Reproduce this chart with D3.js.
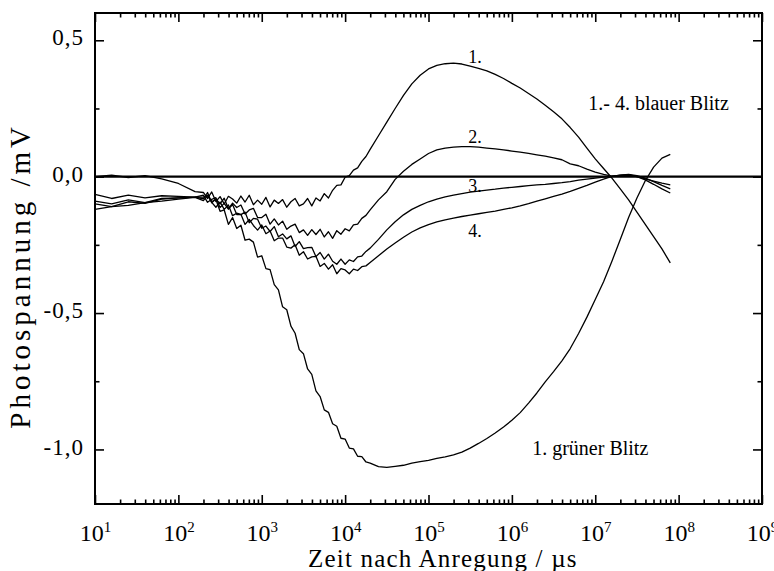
<!DOCTYPE html>
<html>
<head>
<meta charset="utf-8">
<script src="https://cdn.jsdelivr.net/npm/d3@7"></script>
<style>
    body { margin: 0; background: #fff; }
    text { font-family: "Liberation Serif", "Times New Roman", serif; fill: #000; }
</style>
</head>
<body>
<div id="chart"></div>
<script>
// time after excitation as log10(t / µs), shared by all curves
const logTime = [
    1.0, 1.2, 1.4, 1.6, 1.8, 2.0, 2.2,
    2.30, 2.35, 2.40, 2.45, 2.50, 2.55, 2.60, 2.65, 2.70, 2.75,
    2.80, 2.85, 2.90, 2.95, 3.00, 3.05, 3.10, 3.15, 3.20, 3.25,
    3.30, 3.35, 3.40, 3.45, 3.50, 3.55, 3.60, 3.65, 3.70, 3.75,
    3.80, 3.85, 3.90, 3.95, 4.00, 4.05, 4.10, 4.15, 4.20, 4.25, 4.30,
    4.4, 4.5, 4.6, 4.7, 4.8, 4.9, 5.0, 5.1, 5.2, 5.3, 5.4, 5.5,
    5.6, 5.7, 5.8, 5.9, 6.0, 6.1, 6.2, 6.3, 6.4, 6.5, 6.6, 6.7,
    6.8, 6.9, 7.0, 7.1, 7.2, 7.3, 7.4, 7.5, 7.6, 7.7, 7.8, 7.9
]

// photovoltage /mV, 1st - 4th blue flash
const blue1 = [
    0.000, 0.006, -0.003, 0.004, -0.008, -0.025, -0.055,
    -0.058, -0.080, -0.056, -0.091, -0.073, -0.100, -0.072, -0.082, -0.097, -0.071,
    -0.093, -0.068, -0.103, -0.086, -0.101, -0.076, -0.111, -0.086, -0.098, -0.084,
    -0.112, -0.092, -0.080, -0.107, -0.100, -0.080, -0.107, -0.078, -0.089, -0.062,
    -0.078, -0.050, -0.032, -0.030, -0.002, 0.004, 0.024, 0.032, 0.056, 0.074, 0.100,
    0.150, 0.200, 0.250, 0.298, 0.340, 0.372, 0.395, 0.408, 0.414, 0.416, 0.413, 0.405,
    0.397, 0.388, 0.375, 0.360, 0.342, 0.325, 0.305, 0.285, 0.262, 0.238, 0.212, 0.180,
    0.145, 0.105, 0.065, 0.030, -0.005, -0.045, -0.085, -0.130, -0.175, -0.220, -0.265, -0.316
]
const blue2 = [
    -0.065, -0.080, -0.068, -0.078, -0.070, -0.072, -0.075,
    -0.081, -0.058, -0.096, -0.082, -0.100, -0.079, -0.118, -0.097, -0.113, -0.104,
    -0.137, -0.122, -0.116, -0.150, -0.150, -0.138, -0.174, -0.155, -0.177, -0.163,
    -0.193, -0.181, -0.174, -0.205, -0.195, -0.215, -0.194, -0.212, -0.193, -0.221,
    -0.202, -0.226, -0.198, -0.211, -0.191, -0.199, -0.177, -0.174, -0.153, -0.142, -0.122,
    -0.085, -0.055, -0.010, 0.020, 0.045, 0.065, 0.085, 0.098, 0.105, 0.108, 0.110, 0.110,
    0.108, 0.105, 0.102, 0.098, 0.094, 0.090, 0.085, 0.080, 0.075, 0.069, 0.062, 0.047,
    0.040, 0.028, 0.017, 0.008, 0.002, 0.004, 0.005, 0.000, -0.008, -0.016, -0.024, -0.030
]
const blue3 = [
    -0.090, -0.100, -0.085, -0.095, -0.080, -0.078, -0.075,
    -0.068, -0.094, -0.083, -0.077, -0.113, -0.098, -0.119, -0.102, -0.139, -0.139,
    -0.130, -0.169, -0.153, -0.156, -0.189, -0.181, -0.201, -0.183, -0.220, -0.210,
    -0.228, -0.217, -0.256, -0.238, -0.264, -0.260, -0.259, -0.293, -0.278, -0.302,
    -0.284, -0.310, -0.321, -0.302, -0.321, -0.305, -0.311, -0.294, -0.291, -0.274, -0.262,
    -0.230, -0.195, -0.165, -0.140, -0.120, -0.105, -0.092, -0.082, -0.074, -0.068, -0.062, -0.057,
    -0.053, -0.049, -0.046, -0.042, -0.039, -0.036, -0.033, -0.030, -0.028, -0.025, -0.022, -0.018,
    -0.013, -0.009, -0.005, -0.002, 0.001, 0.006, 0.008, 0.004, -0.005, -0.018, -0.032, -0.045
]
const blue4 = [
    -0.120, -0.110, -0.105, -0.095, -0.090, -0.082, -0.076,
    -0.088, -0.069, -0.094, -0.112, -0.093, -0.120, -0.104, -0.143, -0.134, -0.138,
    -0.175, -0.157, -0.179, -0.196, -0.177, -0.209, -0.199, -0.235, -0.225, -0.225,
    -0.258, -0.262, -0.250, -0.288, -0.275, -0.302, -0.294, -0.292, -0.329, -0.318,
    -0.339, -0.323, -0.356, -0.337, -0.342, -0.356, -0.339, -0.344, -0.330, -0.327, -0.315,
    -0.290, -0.265, -0.243, -0.222, -0.203, -0.188, -0.176, -0.166, -0.158, -0.152, -0.146, -0.141,
    -0.136, -0.131, -0.126, -0.120, -0.114, -0.107, -0.099, -0.090, -0.081, -0.072, -0.064, -0.054,
    -0.043, -0.032, -0.020, -0.009, 0.001, 0.006, 0.007, 0.000, -0.012, -0.028, -0.045, -0.060
]
// 1st green flash
const green1 = [
    -0.100, -0.110, -0.092, -0.098, -0.082, -0.078, -0.075,
    -0.075, -0.068, -0.091, -0.084, -0.127, -0.122, -0.175, -0.150, -0.190, -0.178,
    -0.233, -0.229, -0.240, -0.295, -0.290, -0.337, -0.341, -0.396, -0.415, -0.477,
    -0.488, -0.548, -0.574, -0.634, -0.649, -0.705, -0.725, -0.785, -0.806, -0.855,
    -0.864, -0.906, -0.915, -0.959, -0.962, -0.995, -0.998, -1.025, -1.026, -1.046, -1.050,
    -1.063, -1.066, -1.062, -1.058, -1.050, -1.045, -1.040, -1.033, -1.027, -1.020, -1.010, -0.995,
    -0.978, -0.960, -0.940, -0.918, -0.893, -0.865, -0.830, -0.793, -0.752, -0.715, -0.675, -0.630,
    -0.575, -0.515, -0.450, -0.385, -0.310, -0.230, -0.150, -0.078, -0.015, 0.035, 0.068, 0.082
]

const seriesList = [blue1, blue2, blue3, blue4, green1]

// axis ticks
const xDecades = [1, 2, 3, 4, 5, 6, 7, 8, 9]
const yTicks = [-1.0, -0.5, 0.0, 0.5]
const yTickLabels = ["-1,0", "-0,5", "0,0", "0,5"]
const yMinorTicks = [-0.75, -0.25, 0.25]

// curve labels: [text, log10 t, value]
const labels = [
    ["1.", 5.476, 0.416],
    ["2.", 5.476, 0.123],
    ["3.", 5.476, -0.056],
    ["4.", 5.476, -0.221],
]
const notes = [
    ["1.- 4. blauer Blitz", 6.916, 0.244],
    ["1. grüner Blitz", 6.244, -1.019],
]

class PhotoChart {
    constructor() {
        this.margin = {top: 13, right: 12, bottom: 67, left: 95}
        this.width = 774 - this.margin.left - this.margin.right
        this.height = 571 - this.margin.top - this.margin.bottom
    }

    initVis() {
        let vis = this

        vis.svg = d3.select("#chart")
            .append("svg")
            .attr("width", 774)
            .attr("height", 571)
            .append("g")
            .attr("transform", "translate(" + vis.margin.left + "," + vis.margin.top + ")")

        // scales
        vis.x = d3.scaleLog()
            .domain([10, 1e9])
            .range([0, vis.width])
        vis.y = d3.scaleLinear()
            .domain([-1.2, 0.6])
            .range([vis.height, 0])

        const majorX = xDecades.map(e => Math.pow(10, e))
        const minorX = []
        xDecades.slice(0, -1).forEach(e => {
            for (let k = 2; k <= 9; k++) minorX.push(k * Math.pow(10, e))
        })

        const clean = g => {
            g.select(".domain").remove()
            g.selectAll(".tick line").attr("stroke", "#000").attr("stroke-width", 1.6)
        }

        // bottom axis with 10^n labels
        vis.svg.append("g")
            .attr("transform", `translate(0,${vis.height})`)
            .call(d3.axisBottom(vis.x).tickValues(majorX).tickSize(-9).tickPadding(20).tickFormat(""))
            .call(clean)
            .attr("font-family", null)
            .attr("font-size", null)
            .selectAll(".tick text")
            .each(function(d) {
                let t = d3.select(this).style("font-size", "24px")
                t.append("tspan").text("10")
                t.append("tspan")
                    .attr("dy", "-0.62em")
                    .style("font-size", "15px")
                    .text(Math.round(Math.log10(d)))
            })

        vis.svg.append("g")
            .attr("transform", `translate(0,${vis.height})`)
            .call(d3.axisBottom(vis.x).tickValues(minorX).tickSize(-4.5).tickFormat(""))
            .call(clean)

        // top axis, ticks only
        vis.svg.append("g")
            .call(d3.axisTop(vis.x).tickValues(majorX).tickSize(-9).tickFormat(""))
            .call(clean)
        vis.svg.append("g")
            .call(d3.axisTop(vis.x).tickValues(minorX).tickSize(-4.5).tickFormat(""))
            .call(clean)

        // left axis
        vis.svg.append("g")
            .call(d3.axisLeft(vis.y).tickValues(yTicks).tickSize(-9).tickPadding(11)
                .tickFormat((d, i) => yTickLabels[i]))
            .call(clean)
            .attr("font-family", null)
            .attr("font-size", null)
            .selectAll(".tick text")
            .attr("dy", "0.2em")
            .style("font-size", "23px")
            .style("letter-spacing", "1px")

        vis.svg.append("g")
            .call(d3.axisLeft(vis.y).tickValues(yMinorTicks).tickSize(-4.5).tickFormat(""))
            .call(clean)

        // right axis, ticks only
        vis.svg.append("g")
            .attr("transform", `translate(${vis.width},0)`)
            .call(d3.axisRight(vis.y).tickValues(yTicks).tickSize(-9).tickFormat(""))
            .call(clean)
        vis.svg.append("g")
            .attr("transform", `translate(${vis.width},0)`)
            .call(d3.axisRight(vis.y).tickValues(yMinorTicks).tickSize(-4.5).tickFormat(""))
            .call(clean)

        // frame
        vis.svg.append("rect")
            .attr("width", vis.width)
            .attr("height", vis.height)
            .attr("fill", "none")
            .attr("stroke", "#000")
            .attr("stroke-width", 2)

        // zero line
        vis.svg.append("line")
            .attr("x1", 0)
            .attr("x2", vis.width)
            .attr("y1", vis.y(0))
            .attr("y2", vis.y(0))
            .attr("stroke", "#000")
            .attr("stroke-width", 2.2)

        // curves
        const line = d3.line()
            .x((d, i) => vis.x(Math.pow(10, logTime[i])))
            .y(d => vis.y(d))

        vis.svg.selectAll(".curve")
            .data(seriesList)
            .join("path")
            .attr("class", "curve")
            .attr("d", line)
            .attr("fill", "none")
            .attr("stroke", "#000")
            .attr("stroke-width", 1.3)
            .attr("stroke-linejoin", "round")

        // curve numbers
        vis.svg.selectAll(".num")
            .data(labels)
            .join("text")
            .attr("class", "num")
            .attr("x", d => vis.x(Math.pow(10, d[1])))
            .attr("y", d => vis.y(d[2]))
            .style("font-size", "18px")
            .text(d => d[0])

        vis.svg.selectAll(".note")
            .data(notes)
            .join("text")
            .attr("class", "note")
            .attr("x", d => vis.x(Math.pow(10, d[1])))
            .attr("y", d => vis.y(d[2]))
            .style("font-size", "20px")
            .text(d => d[0])

        //x axis label
        vis.svg.append("text")
            .attr("x", 308 - vis.margin.left)
            .attr("y", 567 - vis.margin.top)
            .style("font-size", "25px")
            .style("letter-spacing", "1.2px")
            .text("Zeit nach Anregung / µs")

        //y axis label
        vis.svg.append("text")
            .attr("text-anchor", "end")
            .attr("transform", `translate(${30 - vis.margin.left},${123 - vis.margin.top}) rotate(-90)`)
            .style("font-size", "29px")
            .style("letter-spacing", "4px")
            .text("Photospannung /mV")
    }
}

let chart = new PhotoChart()
chart.initVis()
</script>
</body>
</html>
